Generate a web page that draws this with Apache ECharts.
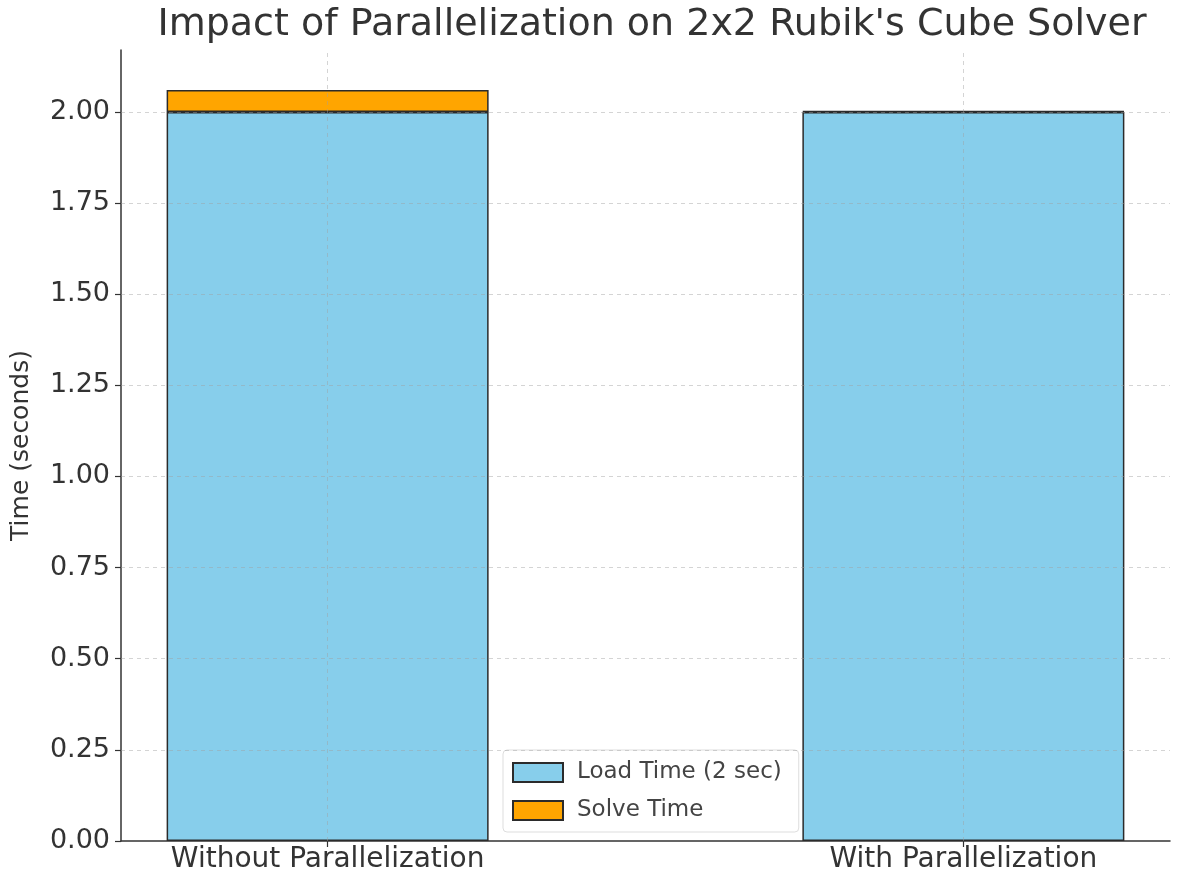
<!DOCTYPE html>
<html>
<head>
<meta charset="utf-8">
<script src="https://cdn.jsdelivr.net/npm/echarts@6/dist/echarts.min.js"></script>
<style>
  html, body { margin: 0; padding: 0; background: #fff; }
  #main { width: 1184px; height: 887px; }
</style>
</head>
<body>
<div id="main"></div>
<script>
  // data
  const categories = ['Without Parallelization', 'With Parallelization'];
  const catPos = [0, 1];
  const loadTime = [2.0, 2.0];
  const solveTime = [0.06, 0.002];
  const yTicks = [0, 0.25, 0.5, 0.75, 1.0, 1.25, 1.5, 1.75, 2.0];

  const chart = echarts.init(document.getElementById('main'));
  const font = 'DejaVu Sans';

  // value first, position second -> the value column gets stacked
  const barItems = vals => catPos.map((x, i) => [vals[i], x]);

  const options = {
    animation: false,
    textStyle: { fontFamily: font },
    title: {
      text: "Impact of Parallelization on 2x2 Rubik's Cube Solver",
      left: 647,
      textAlign: 'center',
      top: 1,
      textStyle: { fontFamily: font, fontSize: 38, fontWeight: 'normal', color: '#333' }
    },
    legend: {
      orient: 'vertical',
      left: 503,
      top: 750,
      padding: [11, 17, 10, 9],
      itemWidth: 50,
      itemHeight: 19,
      itemGap: 15,
      icon: 'rect',
      backgroundColor: '#fff',
      borderColor: '#ddd',
      borderWidth: 1,
      borderRadius: 4,
      textStyle: { fontFamily: font, fontSize: 23, color: '#444', padding: [0, 0, 0, 9] },
      data: ['Load Time (2 sec)', 'Solve Time']
    },
    grid: { left: 121, right: 14, top: 50, bottom: 46, outerBoundsMode: 'none' },
    xAxis: {
      type: 'value',
      min: -0.325,
      max: 1.325,
      axisLine: { onZero: false, lineStyle: { color: '#333', width: 1.5 } },
      axisTick: { customValues: catPos, length: 6, lineStyle: { color: '#333', width: 1.2 } },
      axisLabel: {
        customValues: catPos,
        formatter: v => categories[Math.round(v)],
        fontFamily: font, fontSize: 28, color: '#333', margin: 5
      },
      splitLine: { show: false }
    },
    yAxis: {
      type: 'value',
      min: 0,
      max: 2.17,
      name: 'Time (seconds)',
      nameLocation: 'middle',
      nameGap: 87,
      nameTextStyle: { fontFamily: font, fontSize: 25, color: '#333' },
      axisLine: { show: true, onZero: false, lineStyle: { color: '#333', width: 1.5 } },
      axisTick: { customValues: yTicks, length: 6, lineStyle: { color: '#333', width: 1.2 } },
      axisLabel: {
        customValues: yTicks,
        formatter: v => v.toFixed(2),
        fontFamily: font, fontSize: 27, color: '#333', margin: 11
      },
      splitLine: { show: false }
    },
    series: [
      {
        name: 'Load Time (2 sec)',
        type: 'bar',
        stack: 'time',
        barWidth: 322,
        encode: { x: 1, y: 0 },
        itemStyle: { color: '#87CEEB', borderColor: '#2b2b2b', borderWidth: 1.5 },
        data: barItems(loadTime),
        markLine: {
          silent: true,
          symbol: 'none',
          label: { show: false },
          lineStyle: { color: 'rgba(160,160,160,0.45)', type: [4, 4], width: 1 },
          data: catPos.map(x => ({ xAxis: x })).concat(yTicks.slice(1).map(y => ({ yAxis: y })))
        },
        z: 2
      },
      {
        name: 'Solve Time',
        type: 'bar',
        stack: 'time',
        barWidth: 322,
        encode: { x: 1, y: 0 },
        itemStyle: { color: '#FFA500', borderColor: '#2b2b2b', borderWidth: 1.5 },
        data: barItems(solveTime),
        z: 2
      }
    ]
  };

  chart.setOption(options, true);
  window.addEventListener('resize', function () {
    chart.resize();
  });
</script>
</body>
</html>
